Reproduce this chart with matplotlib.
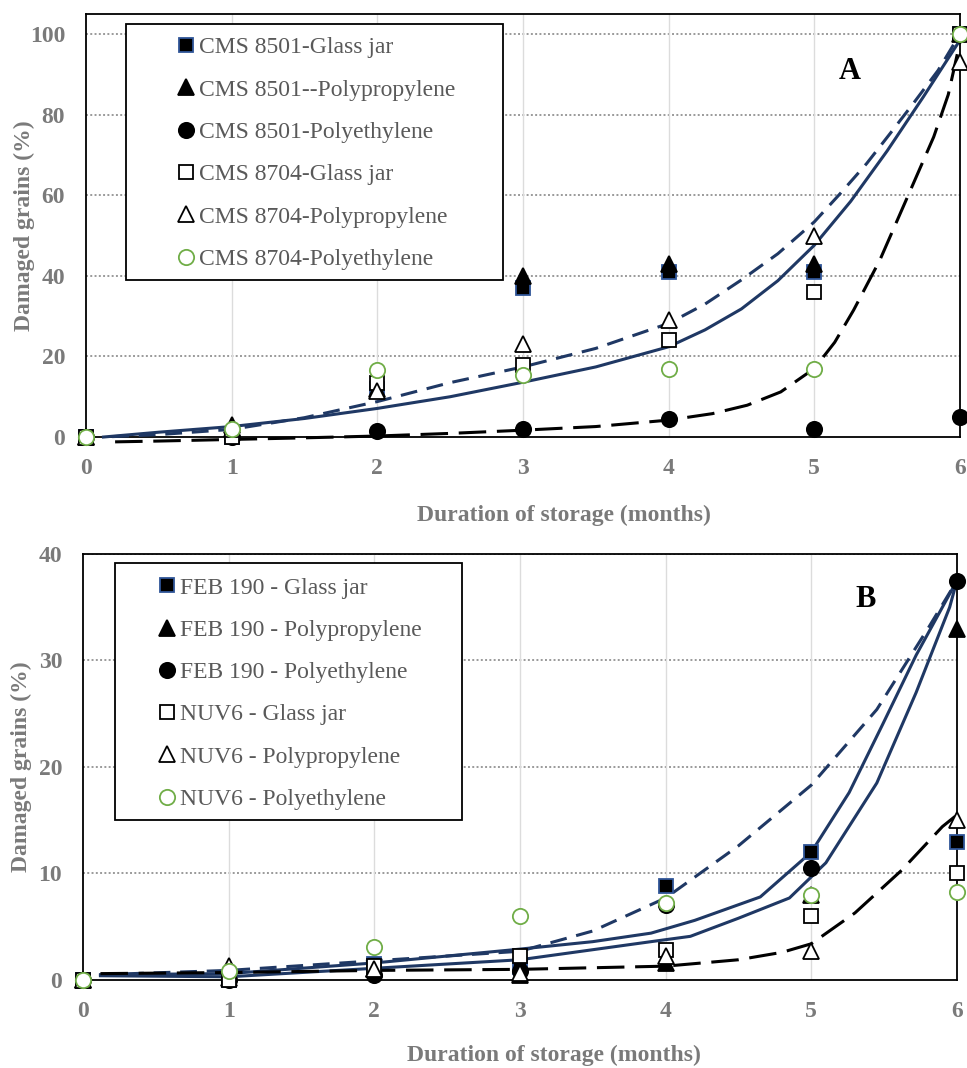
import matplotlib
matplotlib.use('Agg')
import matplotlib.pyplot as plt
from matplotlib.lines import Line2D
from matplotlib.patches import Rectangle

plt.rcParams['font.family'] = ['Liberation Serif', 'DejaVu Serif']

# ---- data ----
months = [0, 1, 2, 3, 4, 5, 6]

# panel A
cms8501_glass = [0, 0, 12, 37, 41, 41, 100]
cms8501_pp = [0, 3, 12, 40, 43, 43, 100]
cms8501_pe = [0, 0, 1.5, 2, 4.5, 2, 5]
cms8704_glass = [0, 0, 13.5, 18, 24, 36, 100]
cms8704_pp = [0, 2, 11.5, 23, 29, 50, 93]
cms8704_pe = [0, 2, 16.6, 15.5, 17, 17, 100]

# trend curves A
a_solid_x = [0.12, 0.5, 1, 1.5, 2, 2.5, 3, 3.5, 4, 4.25, 4.5, 4.75, 5, 5.25, 5.5, 5.75, 6]
a_solid_y = [0, 1.2, 2.6, 4.6, 7.1, 10.0, 13.6, 17.4, 22.4, 26.6, 31.8, 38.8, 47.6, 58.5, 71, 84.5, 98.5]
a_dash_x = [0.18, 0.5, 1, 1.5, 2, 2.5, 3, 3.5, 4, 4.25, 4.5, 4.75, 5, 5.18, 5.36, 5.52, 5.68, 5.85, 6]
a_dash_y = [0.1, 0.6, 1.9, 4.8, 8.8, 13.5, 17.4, 22, 28.2, 33, 39, 45.5, 53.4, 60.5, 67.9, 75.3, 82.8, 91, 100]
a_long_x = [0.2, 0.5, 1, 1.5, 2, 2.5, 3, 3.5, 4, 4.3, 4.54, 4.77, 5, 5.14, 5.27, 5.45, 5.64, 5.82, 5.92, 6]
a_long_y = [-1.2, -1.0, -0.6, -0.2, 0.25, 0.9, 1.7, 2.6, 4.2, 5.8, 7.9, 11.2, 17, 23.5, 31.5, 43.9, 59.6, 74.5, 85, 98]

# panel B
feb_glass = [0, 0, 1.5, 1.2, 8.8, 12, 13]
feb_pp = [0, 0.2, 1.0, 0.5, 1.6, 8, 33]
feb_pe = [0, 0, 0.5, 0.8, 7, 10.5, 37.5]
nuv_glass = [0, 0, 1.3, 2.3, 2.8, 6, 10]
nuv_pp = [0, 1.3, 1.0, 0.7, 2.3, 2.7, 15]
nuv_pe = [0, 0.8, 3.1, 6, 7.2, 8, 8.3]

# trend curves B
b_dash_x = [0.12, 1, 2, 3, 3.5, 4, 4.5, 5, 5.45, 5.81, 6]
b_dash_y = [0.5, 0.9, 1.8, 2.7, 4.6, 7.7, 12.6, 18.3, 25.4, 33.2, 37.5]
b_up_x = [0.12, 1, 2, 3, 3.5, 3.9, 4.2, 4.65, 5, 5.26, 5.49, 5.72, 6]
b_up_y = [0.5, 0.6, 1.6, 2.9, 3.6, 4.4, 5.6, 7.8, 12.0, 17.6, 24, 30.5, 37.5]
b_low_x = [0.12, 1, 2, 3, 3.9, 4.17, 4.5, 4.85, 5.1, 5.45, 5.72, 5.95, 6]
b_low_y = [0.4, 0.3, 1.1, 1.9, 3.6, 4.1, 5.8, 7.7, 11.0, 18.5, 27, 35, 37.5]
b_long_x = [0.12, 1, 2, 3, 4, 4.5, 4.8, 5, 5.3, 5.62, 5.9, 6]
b_long_y = [0.6, 0.7, 0.9, 1.0, 1.3, 1.9, 2.6, 3.4, 6.3, 10.3, 14.4, 15.5]

labels_a = ['CMS 8501-Glass jar', 'CMS 8501--Polypropylene', 'CMS 8501-Polyethylene',
            'CMS 8704-Glass jar', 'CMS 8704-Polypropylene', 'CMS 8704-Polyethylene']
labels_b = ['FEB 190 - Glass jar', 'FEB 190 - Polypropylene', 'FEB 190 - Polyethylene',
            'NUV6 - Glass jar', 'NUV6 - Polypropylene', 'NUV6 - Polyethylene']

NAVY = '#1f3864'
GREEN = '#70ad47'
GRAY = '#7a7a7a'
TEXT = '#595959'

styles = [
    dict(marker='s', mfc='black', mec='#2f5597', ms=10),
    dict(marker='^', mfc='black', mec='black', ms=11),
    dict(marker='o', mfc='black', mec='black', ms=11),
    dict(marker='s', mfc='white', mec='black', ms=10),
    dict(marker='^', mfc='white', mec='black', ms=11),
    dict(marker='o', mfc='white', mec=GREEN, ms=11),
]


def draw_panel(ax, series, labels, curves, ymax, ystep, letter, letter_xy,
               box, leg_anchor):
    ax.set_xlim(0, 6)
    ax.set_ylim(0, ymax)
    ax.set_xticks(months)
    ax.set_yticks(range(0, int(ymax) + 1, ystep))
    for v in range(ystep, int(ymax) + 1, ystep):
        ax.axhline(v, color='#9a9a9a', lw=1.4, ls=(0, (1, 1.2)), zorder=0)
    for m in months[1:-1]:
        ax.axvline(m, color='#dcdcdc', lw=1.0, zorder=0)
    for sp in ax.spines.values():
        sp.set_color('black')
        sp.set_linewidth(1.3)
    ax.tick_params(length=0, labelsize=17, labelcolor=GRAY, pad=15)
    for t in ax.get_xticklabels() + ax.get_yticklabels():
        t.set_fontweight('bold')

    # legend box (white, hides gridlines)
    ax.add_patch(Rectangle((box[0], box[1]), box[2], box[3], transform=ax.transAxes,
                           facecolor='white', edgecolor='black', lw=1.3, zorder=1))

    for (cx, cy, ls, col, lw) in curves:
        ax.plot(cx, cy, ls=ls, color=col, lw=lw, zorder=3, clip_on=False,
                solid_joinstyle='round')

    for vals, st in zip(series, styles):
        ax.plot(months, vals, ls='none', mew=1.3, zorder=4, clip_on=False, **st)

    handles = [Line2D([], [], ls='none', mew=1.3, **st) for st in styles]
    leg = ax.legend(handles, labels, loc='upper left', bbox_to_anchor=leg_anchor,
                    frameon=False, fontsize=17, handlelength=0.7, handletextpad=0.2,
                    labelspacing=0.88, borderaxespad=0, borderpad=0)
    leg.set_zorder(5)
    for t in leg.get_texts():
        t.set_color(TEXT)

    ax.text(letter_xy[0], letter_xy[1], letter, transform=ax.transAxes, fontsize=22,
            fontweight='bold', ha='center', va='center', color='black')

    ax.set_ylabel('Damaged grains (%)', fontsize=17, fontweight='bold', color=GRAY)


fig = plt.figure(figsize=(9.67, 10.68), dpi=100)
ax1 = fig.add_axes([0.0889, 0.5908, 0.9038, 0.3961])
ax2 = fig.add_axes([0.0858, 0.0824, 0.9038, 0.3989])

curves_a = [
    (a_solid_x, a_solid_y, '-', NAVY, 2.2),
    (a_dash_x, a_dash_y, (0, (5.5, 3.2)), NAVY, 2.2),
    (a_long_x, a_long_y, (0, (9, 3.5)), 'black', 2.2),
]
curves_b = [
    (b_up_x, b_up_y, '-', NAVY, 2.2),
    (b_low_x, b_low_y, '-', NAVY, 2.2),
    (b_dash_x, b_dash_y, (0, (5.5, 3.2)), NAVY, 2.2),
    (b_long_x, b_long_y, (0, (9, 3.5)), 'black', 2.2),
]

draw_panel(ax1, [cms8501_glass, cms8501_pp, cms8501_pe, cms8704_glass, cms8704_pp, cms8704_pe],
           labels_a, curves_a, 105, 20, 'A', (0.874, 0.865),
           (0.0458, 0.371, 0.431, 0.605), (0.105, 0.946))
draw_panel(ax2, [feb_glass, feb_pp, feb_pe, nuv_glass, nuv_pp, nuv_pe],
           labels_b, curves_b, 40, 10, 'B', (0.895, 0.894),
           (0.0366, 0.3756, 0.397, 0.6034), (0.087, 0.946))

ax1.yaxis.set_label_coords((24 - 86) / 874, 0.5)
ax2.yaxis.set_label_coords((21 - 83) / 874, 0.5)
for lab in (ax1.yaxis.label, ax2.yaxis.label):
    lab.set_va('center')

fig.text(564 / 967, 1 - 515 / 1068, 'Duration of storage (months)', ha='center', va='center',
         fontsize=17, fontweight='bold', color=GRAY)
fig.text(554 / 967, 1 - 1055 / 1068, 'Duration of storage (months)', ha='center', va='center',
         fontsize=17, fontweight='bold', color=GRAY)

fig.savefig('out.png', dpi=100)
